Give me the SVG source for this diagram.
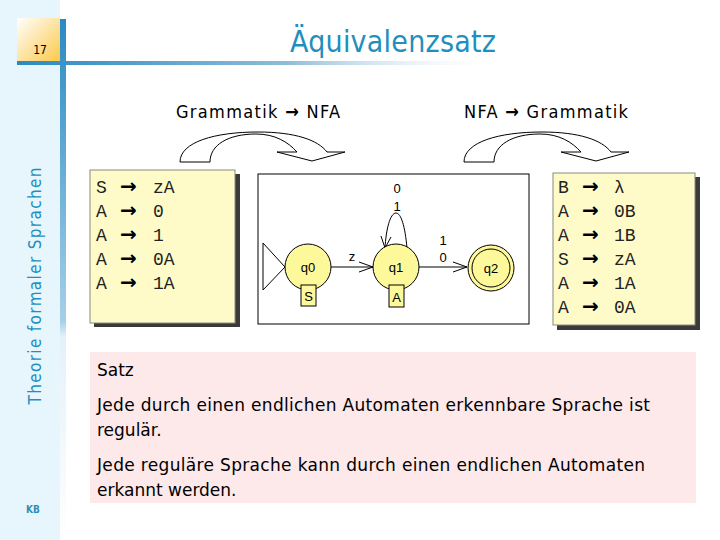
<svg xmlns="http://www.w3.org/2000/svg" width="720" height="540" viewBox="0 0 720 540">
<defs>
<linearGradient id="vbar" x1="0" y1="0" x2="0" y2="1">
<stop offset="0" stop-color="#2a8ac2"/>
<stop offset="0.58" stop-color="#a6d0e8"/>
<stop offset="0.61" stop-color="#e4f1f9"/>
<stop offset="1" stop-color="#ffffff"/>
</linearGradient>
<linearGradient id="hbar" x1="0" y1="0" x2="1" y2="0">
<stop offset="0" stop-color="#2a8ac2"/>
<stop offset="0.55" stop-color="#8dbcd8"/>
<stop offset="1" stop-color="#ffffff" stop-opacity="0"/>
</linearGradient>
<linearGradient id="numbox" x1="0" y1="0" x2="1" y2="1">
<stop offset="0" stop-color="#ffffff"/>
<stop offset="1" stop-color="#fcc94a"/>
</linearGradient>
<path id="curved" d="M180,162 C180,142 215,132 258,132 C295,132 318,140 327,152 L345,152 L312,161 L277,152 L297,152 C288,142 275,134 256,134 C228,134 210,145 210,162 Z"/>
</defs>
<style>
.cond{font-family:"DejaVu Sans Condensed","DejaVu Sans","Liberation Sans",sans-serif;font-stretch:condensed}
.dv{font-family:"DejaVu Sans","Liberation Sans",sans-serif}
.title{fill:#1f8fbd}
.hdr{font-size:18px;fill:#000}
.mono{font-family:"Liberation Mono","DejaVu Sans Mono",monospace;font-size:18px;fill:#222}
.arr{font-family:"DejaVu Sans",sans-serif;font-size:20px;font-weight:bold;fill:#000}
.harr{font-family:"DejaVu Sans",sans-serif;font-weight:bold}
.gbox{fill:#fefbc8;stroke:#8a8a80;stroke-width:1}
.shadow{fill:#3a3a3a}
.state{fill:#fdf89a;stroke:#000;stroke-width:1}
.lbl{font-family:"Liberation Sans",Arial,sans-serif;font-size:13px;fill:#000;text-anchor:middle}
.edge{fill:none;stroke:#000;stroke-width:1}
.satz{font-size:17px;fill:#000}
.curv{fill:#fff;stroke:#000;stroke-width:1}
</style>

<!-- slide frame -->
<rect x="0" y="0" width="60" height="540" fill="#e7f6fd"/>
<rect x="60" y="19" width="6" height="521" fill="url(#vbar)"/>
<rect x="17" y="18" width="43" height="43" fill="url(#numbox)"/>
<rect x="17" y="61" width="490" height="4" fill="url(#hbar)"/>
<text class="cond" x="40" y="54" font-size="12" fill="#000" text-anchor="middle">17</text>
<text class="cond title" x="393" y="52" font-size="30" text-anchor="middle" textLength="206">Äquivalenzsatz</text>
<text class="cond title" transform="translate(41,286) rotate(-90)" font-size="17" text-anchor="middle" textLength="237">Theorie formaler Sprachen</text>
<text class="cond" x="33" y="513" font-size="10" font-weight="bold" fill="#2f8db5" text-anchor="middle">KB</text>

<!-- headers -->
<text class="cond hdr" x="176" y="118" textLength="164">Grammatik <tspan class="harr">→</tspan> NFA</text>
<text class="cond hdr" x="464" y="118" textLength="164">NFA <tspan class="harr">→</tspan> Grammatik</text>

<!-- curved arrows -->
<g id="curved-arrows">
<use href="#curved" class="curv"/>
<use href="#curved" class="curv" transform="translate(284,0)"/>
</g>

<!-- grammar box 1 -->
<g id="grammar1">
<rect class="shadow" x="94" y="174" width="146" height="153"/>
<rect class="gbox" x="90" y="170" width="145" height="153"/>
<text class="mono" x="96" y="193">S</text><text class="arr" x="120" y="193">→</text><text class="mono" x="153" y="193">zA</text>
<text class="mono" x="96" y="217">A</text><text class="arr" x="120" y="217">→</text><text class="mono" x="153" y="217">0</text>
<text class="mono" x="96" y="241">A</text><text class="arr" x="120" y="241">→</text><text class="mono" x="153" y="241">1</text>
<text class="mono" x="96" y="265">A</text><text class="arr" x="120" y="265">→</text><text class="mono" x="153" y="265">0A</text>
<text class="mono" x="96" y="289">A</text><text class="arr" x="120" y="289">→</text><text class="mono" x="153" y="289">1A</text>
</g>

<!-- automaton -->
<g id="automaton">
<rect x="258" y="174" width="271" height="150" fill="#fff" stroke="#000" stroke-width="1"/>
<g id="connectors">
<polygon points="263,243 285,267 263,290" fill="#fff" stroke="#000" stroke-width="1"/>
<line class="edge" x1="331" y1="267" x2="373" y2="267"/>
<polyline class="edge" points="359,262 373,267 359,272"/>
<line class="edge" x1="419" y1="267" x2="467" y2="267"/>
<polyline class="edge" points="453,262 467,267 453,272"/>
<path class="edge" d="M407,248 C405,226 401,213 396,213 C390,213 386,230 385,248"/>
<polyline class="edge" points="381,236 385,248 391,237"/>
</g>
<text class="lbl" x="352" y="261">z</text>
<text class="lbl" x="443" y="245">1</text>
<text class="lbl" x="443" y="262">0</text>
<text class="lbl" x="397" y="193">0</text>
<text class="lbl" x="397" y="211">1</text>
<g id="q0">
<circle class="state" cx="308" cy="267" r="23"/>
<text class="lbl" x="308" y="272">q0</text>
<rect class="state" x="301" y="285" width="15" height="21"/>
<text class="lbl" x="308.5" y="301">S</text>
</g>
<g id="q1">
<circle class="state" cx="396" cy="267" r="23"/>
<text class="lbl" x="396" y="272">q1</text>
<rect class="state" x="389" y="285" width="15" height="22"/>
<text class="lbl" x="396.5" y="302">A</text>
</g>
<g id="q2">
<circle class="state" cx="491" cy="268" r="23"/>
<circle class="state" cx="491" cy="268" r="19"/>
<text class="lbl" x="491" y="273">q2</text>
</g>
</g>

<!-- grammar box 2 -->
<g id="grammar2">
<rect class="shadow" x="557" y="177" width="143" height="153"/>
<rect class="gbox" x="553" y="173" width="142" height="152"/>
<text class="mono" x="558" y="193">B</text><text class="arr" x="582" y="193">→</text><text class="mono" x="614" y="193">λ</text>
<text class="mono" x="558" y="217">A</text><text class="arr" x="582" y="217">→</text><text class="mono" x="614" y="217">0B</text>
<text class="mono" x="558" y="241">A</text><text class="arr" x="582" y="241">→</text><text class="mono" x="614" y="241">1B</text>
<text class="mono" x="558" y="265">S</text><text class="arr" x="582" y="265">→</text><text class="mono" x="614" y="265">zA</text>
<text class="mono" x="558" y="289">A</text><text class="arr" x="582" y="289">→</text><text class="mono" x="614" y="289">1A</text>
<text class="mono" x="558" y="313">A</text><text class="arr" x="582" y="313">→</text><text class="mono" x="614" y="313">0A</text>
</g>

<!-- Satz -->
<g id="satz">
<rect x="90" y="352" width="606" height="151" fill="#fde8ea"/>
<text class="dv satz" x="97" y="376">Satz</text>
<text class="dv satz" x="97" y="411" textLength="553">Jede durch einen endlichen Automaten erkennbare Sprache ist</text>
<text class="dv satz" x="97" y="436">regulär.</text>
<text class="dv satz" x="97" y="471" textLength="548">Jede reguläre Sprache kann durch einen endlichen Automaten</text>
<text class="dv satz" x="97" y="496">erkannt werden.</text>
</g>
</svg>
